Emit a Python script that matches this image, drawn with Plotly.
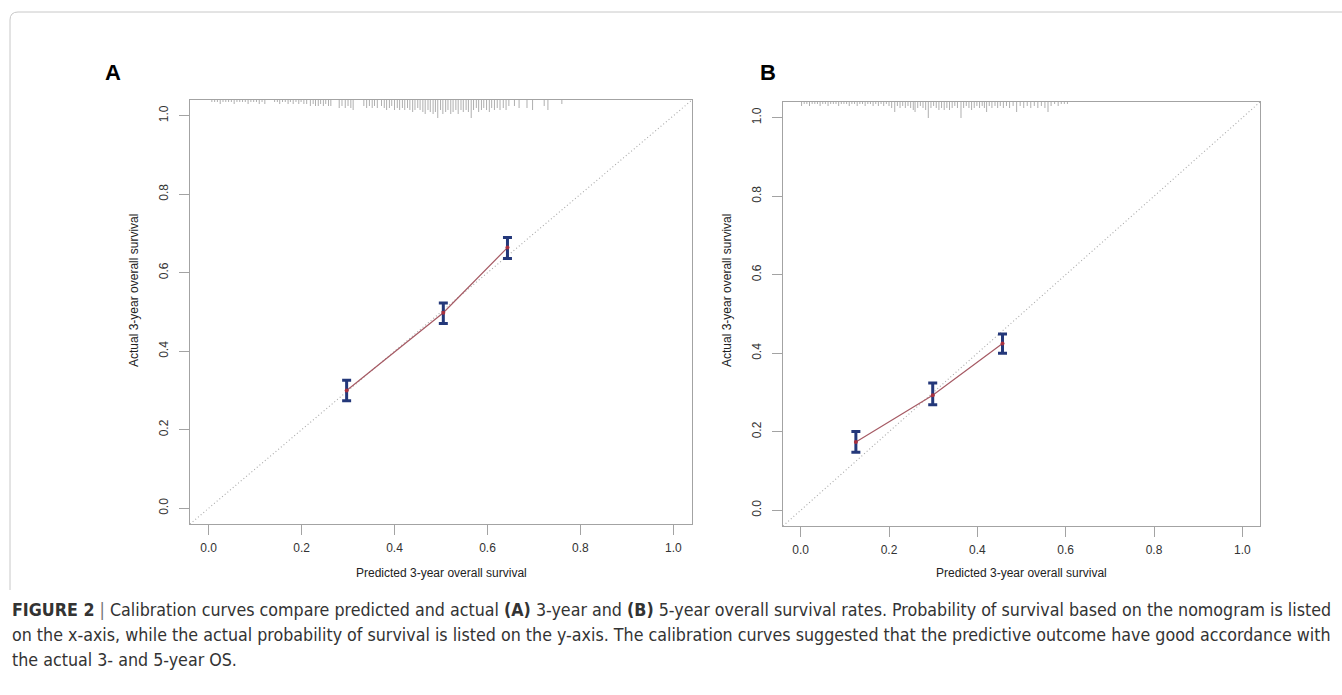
import plotly.graph_objects as go

W, H = 1342, 695

# ---------------- data ----------------
tick_vals = [0.0, 0.2, 0.4, 0.6, 0.8, 1.0]
tick_text = ["0.0", "0.2", "0.4", "0.6", "0.8", "1.0"]

x_title = "Predicted 3-year overall survival"
y_title = "Actual 3-year overall survival"

# Panel A (3-year)
a_pred = [0.297, 0.505, 0.643]
a_obs = [0.300, 0.498, 0.664]
a_lo = [0.274, 0.471, 0.636]
a_hi = [0.326, 0.523, 0.690]

# Panel B (5-year)
b_pred = [0.125, 0.299, 0.457]
b_obs = [0.174, 0.293, 0.425]
b_lo = [0.148, 0.269, 0.400]
b_hi = [0.201, 0.324, 0.449]

# rug (distribution of predicted values): position and relative frequency
a_rug_x = [0.007, 0.013, 0.019, 0.025, 0.031, 0.037, 0.043, 0.049, 0.055, 0.061,
           0.067, 0.073, 0.079, 0.085, 0.091, 0.097, 0.103, 0.109, 0.115, 0.121,
           0.142, 0.148, 0.153, 0.159, 0.165, 0.171, 0.176, 0.182, 0.188, 0.194,
           0.199, 0.205, 0.211,
           0.219, 0.225, 0.230, 0.236, 0.241, 0.247, 0.252, 0.258, 0.263,
           0.281, 0.287, 0.294, 0.300, 0.306, 0.311,
           0.334, 0.340, 0.346, 0.352, 0.357, 0.363,
           0.372, 0.378, 0.383, 0.389, 0.394, 0.400, 0.406, 0.411, 0.417, 0.422,
           0.428, 0.433, 0.439, 0.444, 0.450, 0.455,
           0.461, 0.466, 0.472, 0.477, 0.483, 0.488, 0.493,
           0.499, 0.504, 0.510, 0.515, 0.521, 0.526, 0.532, 0.537, 0.543, 0.548,
           0.554, 0.559, 0.565,
           0.570, 0.576, 0.581, 0.587, 0.592, 0.598, 0.604, 0.609, 0.615, 0.621,
           0.627, 0.634, 0.640, 0.646,
           0.658, 0.668, 0.685, 0.697, 0.722, 0.730, 0.760]
a_rug_n = [1, 1, 1, 2, 1, 1, 1, 1, 2, 1,
           1, 1, 1, 2, 1, 1, 1, 2, 1, 2,
           1, 1, 2, 1, 1, 2, 1, 2, 1, 2,
           1, 2, 2,
           3, 2, 3, 3, 2, 3, 2, 3, 3,
           4, 3, 4, 3, 4, 5,
           3, 4, 3, 4, 3, 4,
           3, 4, 5, 4, 3, 5, 4, 5, 4, 5,
           4, 5, 6, 5, 4, 5,
           6, 7, 5, 6, 7, 6, 9,
           5, 7, 6, 5, 7, 6, 5, 7, 5, 6,
           5, 6, 9,
           5, 4, 6, 5, 4, 5, 6, 4, 5, 4,
           5, 4, 5, 3,
           3, 4, 4, 5, 3, 5, 2]

b_rug_x = [0.002, 0.008, 0.014, 0.020, 0.026, 0.032, 0.038, 0.044, 0.050, 0.056,
           0.062, 0.068, 0.074, 0.080, 0.086, 0.092, 0.098, 0.104, 0.110, 0.116,
           0.122, 0.128, 0.134, 0.140, 0.146, 0.152, 0.158, 0.164, 0.170, 0.176,
           0.182, 0.188, 0.194, 0.200,
           0.206, 0.213, 0.219, 0.225, 0.231, 0.237, 0.243, 0.249, 0.255, 0.259,
           0.265, 0.271, 0.277, 0.283, 0.289, 0.295, 0.301, 0.307, 0.313, 0.319,
           0.325, 0.331, 0.337, 0.343, 0.349, 0.355, 0.363, 0.369, 0.375, 0.381,
           0.387, 0.393, 0.399, 0.405, 0.411, 0.416, 0.421, 0.427, 0.433, 0.440,
           0.446,
           0.452, 0.459, 0.466, 0.473, 0.481, 0.489, 0.497, 0.505, 0.513, 0.521,
           0.529, 0.537, 0.545, 0.553, 0.560, 0.567, 0.575, 0.583, 0.590, 0.597,
           0.604]
b_rug_n = [2, 1, 1, 2, 1, 1, 1, 2, 1, 1,
           2, 1, 1, 1, 2, 1, 1, 1, 2, 1,
           1, 2, 1, 1, 2, 1, 1, 2, 1, 2,
           1, 2, 1, 2,
           3, 5, 2, 3, 2, 3, 2, 3, 4, 5,
           3, 2, 3, 4, 8, 3, 2, 3, 4, 3,
           4, 3, 4, 3, 2, 3, 8, 3, 2, 3,
           4, 3, 2, 3, 2, 3, 5, 2, 3, 2,
           3,
           2, 3, 2, 3, 2, 5, 2, 3, 2, 3,
           2, 3, 2, 3, 5, 2, 1, 2, 1, 1,
           1]

# ---------------- styling / geometry ----------------
RNG = [-0.04, 1.04]
BOX_COL = "#a3a3a3"
FONT = "Liberation Sans, Arial, Helvetica, sans-serif"


def fx(p):
    return p / W


def fy(p):
    return 1 - p / H


panels = [
    dict(label="A", ax="", box=(190, 692, 100, 524), pred=a_pred, obs=a_obs,
         lo=a_lo, hi=a_hi, rx=a_rug_x, rn=a_rug_n, lab_xy=(113, 73)),
    dict(label="B", ax="2", box=(783, 1260, 102, 526), pred=b_pred, obs=b_obs,
         lo=b_lo, hi=b_hi, rx=b_rug_x, rn=b_rug_n, lab_xy=(768, 73)),
]

fig = go.Figure()
annotations = []

for p in panels:
    xa, ya = "x" + p["ax"], "y" + p["ax"]
    x0, x1, y0, y1 = p["box"]
    unit_px = (y1 - y0) / (RNG[1] - RNG[0])
    step = 2.0 / unit_px  # one frequency unit = 2 px of rug
    top = RNG[1]

    # ideal line
    fig.add_trace(go.Scatter(x=RNG, y=RNG, mode="lines", xaxis=xa, yaxis=ya,
                             line=dict(color="#a8a8a8", width=1.1, dash="1px,2.5px"),
                             hoverinfo="skip", showlegend=False))
    # rug
    rxs, rys = [], []
    for xv, n in zip(p["rx"], p["rn"]):
        rxs += [xv, xv, None]
        rys += [top, top - n * step, None]
    fig.add_trace(go.Scatter(x=rxs, y=rys, mode="lines", xaxis=xa, yaxis=ya,
                             line=dict(color="#9a9a9a", width=0.8),
                             hoverinfo="skip", showlegend=False))
    # calibration curve
    fig.add_trace(go.Scatter(x=p["pred"], y=p["obs"], mode="lines", xaxis=xa, yaxis=ya,
                             line=dict(color="#a65a64", width=1.2),
                             showlegend=False))
    # error bars + points
    fig.add_trace(go.Scatter(
        x=p["pred"], y=p["obs"], mode="markers", xaxis=xa, yaxis=ya,
        marker=dict(size=4, color="#a8303e"),
        error_y=dict(type="data", symmetric=False,
                     array=[h - o for h, o in zip(p["hi"], p["obs"])],
                     arrayminus=[o - l for o, l in zip(p["obs"], p["lo"])],
                     color="#24387a", thickness=3, width=4.5),
        showlegend=False))

    axis_common = dict(range=RNG, showgrid=False, zeroline=False, showline=True,
                       linecolor=BOX_COL, linewidth=1.3, mirror=True,
                       ticks="outside", ticklen=10, tickwidth=1.3, tickcolor=BOX_COL,
                       tickvals=tick_vals, ticktext=tick_text,
                       tickfont=dict(family=FONT, size=12, color="#333333"))
    fig.update_layout(**{
        ("xaxis" + p["ax"]): dict(domain=[fx(x0), fx(x1)], anchor=ya, ticklabelstandoff=2,
                                  **axis_common),
        ("yaxis" + p["ax"]): dict(domain=[fy(y1), fy(y0)], anchor=xa, tickangle=-90,
                                  ticklabelstandoff=6, **axis_common),
    })

    # axis titles
    annotations.append(dict(text=x_title, x=fx((x0 + x1) / 2), y=fy(573), xref="paper",
                            yref="paper", showarrow=False, xanchor="center", yanchor="middle",
                            font=dict(family=FONT, size=12, color="#222222")))
    annotations.append(dict(text=y_title, x=fx(x0 - 56), y=fy(291), xref="paper",
                            yref="paper", showarrow=False, xanchor="center", yanchor="middle",
                            textangle=-90,
                            font=dict(family=FONT, size=12, color="#222222")))
    # panel label
    lx, ly = p["lab_xy"]
    annotations.append(dict(text="<b>" + p["label"] + "</b>", x=fx(lx), y=fy(ly),
                            xref="paper", yref="paper", showarrow=False,
                            xanchor="center", yanchor="middle",
                            font=dict(family=FONT, size=22, color="#000000")))

# caption
cap_font = "DejaVu Sans Condensed, Liberation Sans Narrow, sans-serif"
caption_lines = [
    "<b>FIGURE 2</b> <span style='color:#777'>|</span> Calibration curves compare predicted and actual <b>(A)</b> 3-year and <b>(B)</b> 5-year overall survival rates. Probability of survival based on the nomogram is listed",
    "on the x-axis, while the actual probability of survival is listed on the y-axis. The calibration curves suggested that the predictive outcome have good accordance with",
    "the actual 3- and 5-year OS.",
]
for i, line in enumerate(caption_lines):
    annotations.append(dict(text=line, x=fx(10), y=fy(610 + 25 * i), xref="paper",
                            yref="paper", showarrow=False, xanchor="left",
                            yanchor="middle", align="left",
                            font=dict(family=cap_font, size=17.7, color="#333333")))

# outer frame (top and left edges with rounded corner)
r = 8
frame_path = (f"M {fx(10)},{fy(590)} L {fx(10)},{fy(12 + r)} "
              f"Q {fx(10)},{fy(12)} {fx(10 + r)},{fy(12)} L {fx(1342)},{fy(12)}")

fig.update_layout(
    width=W, height=H, margin=dict(l=0, r=0, t=0, b=0),
    paper_bgcolor="white", plot_bgcolor="white",
    annotations=annotations,
    shapes=[dict(type="path", path=frame_path, xref="paper", yref="paper",
                 line=dict(color="#c8c8c8", width=1))],
    showlegend=False,
)

fig.write_html("out.html", config={"displayModeBar": False},
               post_script="document.body.style.margin='0';document.body.style.overflow='hidden';")
